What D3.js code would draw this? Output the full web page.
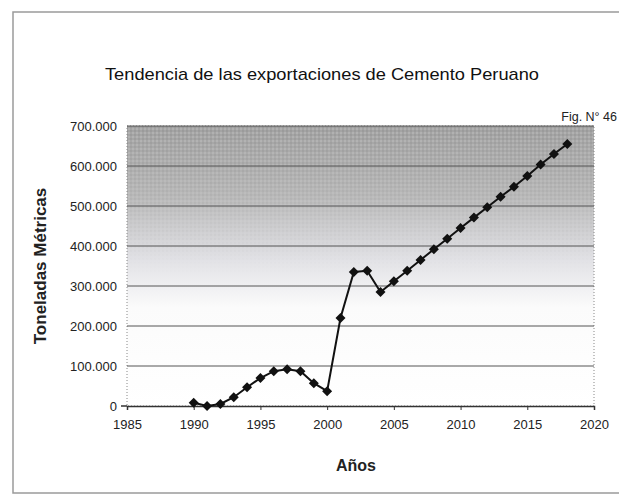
<!DOCTYPE html>
<html><head><meta charset="utf-8">
<script src="https://cdn.jsdelivr.net/npm/d3@7"></script>
<style>body{margin:0;background:#fff}svg{display:block}</style>
</head><body><svg id="c" width="619" height="495"></svg>
<script>
const years = [1990,1991,1992,1993,1994,1995,1996,1997,1998,1999,2000,2001,2002,2003,2004,2005,2006,2007,2008,2009,2010,2011,2012,2013,2014,2015,2016,2017,2018];
const tonnes = [8000,0,5000,22000,47000,70000,87000,92000,87000,57000,37000,220000,335000,338000,285000,312000,338000,365000,392000,418000,445000,471000,497000,523000,548000,575000,604000,630000,655000];
const xTicks = [1985,1990,1995,2000,2005,2010,2015,2020];
const yTicks = [0,100000,200000,300000,400000,500000,600000,700000];
const title = "Tendencia de las exportaciones de Cemento Peruano";
const figLabel = "Fig. N° 46";
const xTitle = "Años";
const yTitle = "Toneladas Métricas";

const svg = d3.select("#c");
const font = "'Liberation Sans', Arial, sans-serif";
const L=127,R=594,T=126,B=406;
const x = d3.scaleLinear().domain([1985,2020]).range([L,R]);
const y = d3.scaleLinear().domain([0,700000]).range([B,T]);

// outer frame
svg.append("rect").attr("x",13).attr("y",12).attr("width",620).attr("height",481)
  .attr("fill","#fff").attr("stroke","#9a9a9a").attr("stroke-width",1.5);

const defs = svg.append("defs");
const g = defs.append("linearGradient").attr("id","bg").attr("x1",0).attr("x2",0).attr("y1",0).attr("y2",1);
g.append("stop").attr("offset","0%").attr("stop-color","#a2a2a2");
g.append("stop").attr("offset","25%").attr("stop-color","#b8b8b8");
g.append("stop").attr("offset","48%").attr("stop-color","#e2e2e6");
g.append("stop").attr("offset","65%").attr("stop-color","#fbfbfb");
g.append("stop").attr("offset","100%").attr("stop-color","#ffffff");
const pat = defs.append("pattern").attr("id","dots").attr("width",4).attr("height",4).attr("patternUnits","userSpaceOnUse");
pat.append("circle").attr("cx",1).attr("cy",1).attr("r",0.8).attr("fill","#ffffff").attr("opacity",0.35);
pat.append("circle").attr("cx",3).attr("cy",3).attr("r",0.8).attr("fill","#000").attr("opacity",0.12);
const fade = defs.append("linearGradient").attr("id","fade").attr("x1",0).attr("x2",0).attr("y1",0).attr("y2",1);
fade.append("stop").attr("offset","0%").attr("stop-color","#fff").attr("stop-opacity",1);
fade.append("stop").attr("offset","55%").attr("stop-color","#fff").attr("stop-opacity",0);
const mask = defs.append("mask").attr("id","m");
mask.append("rect").attr("x",L).attr("y",T).attr("width",R-L).attr("height",B-T).attr("fill","url(#fade)");

svg.append("rect").attr("x",L).attr("y",T).attr("width",R-L).attr("height",B-T).attr("fill","url(#bg)");
svg.append("rect").attr("x",L).attr("y",T).attr("width",R-L).attr("height",B-T).attr("fill","url(#dots)").attr("mask","url(#m)");
svg.append("rect").attr("x",L).attr("y",T).attr("width",R-L).attr("height",B-T).attr("fill","none")
  .attr("stroke","#888").attr("stroke-dasharray","1,2");

// gridlines
svg.append("g").selectAll("line").data(yTicks.filter(d=>d>0)).join("line")
  .attr("x1",L).attr("x2",R).attr("y1",d=>y(d)).attr("y2",d=>y(d))
  .attr("stroke","#555").attr("stroke-width",1);

// y axis
const yAx = svg.append("g").attr("transform",`translate(${L},0)`)
  .call(d3.axisLeft(y).tickValues(yTicks).tickSize(0).tickPadding(10)
    .tickFormat(d=>d===0?"0":d3.format(",")(d).replace(/,/g,".")));
yAx.select(".domain").remove();
yAx.selectAll("text").attr("font-family",font).attr("font-size",13).attr("fill","#222");

// x axis
const xAx = svg.append("g").attr("transform",`translate(0,${B})`)
  .call(d3.axisBottom(x).tickValues(xTicks).tickSize(4).tickPadding(10).tickFormat(d3.format("d")));
xAx.select(".domain").attr("stroke","#333").attr("stroke-width",1.5);
xAx.selectAll("line").attr("stroke","#333");
xAx.selectAll("text").attr("font-family",font).attr("font-size",13).attr("fill","#222");
svg.append("line").attr("x1",L-6).attr("x2",L).attr("y1",B).attr("y2",B).attr("stroke","#333").attr("stroke-width",1.5);

// line + markers
const data = years.map((yr,i)=>({yr,v:tonnes[i]}));
svg.append("path").datum(data).attr("fill","none").attr("stroke","#111").attr("stroke-width",2)
  .attr("d",d3.line().x(d=>x(d.yr)).y(d=>y(d.v)));
svg.append("g").selectAll("path").data(data).join("path")
  .attr("transform",d=>`translate(${x(d.yr)},${y(d.v)})`)
  .attr("d",d3.symbol(d3.symbolDiamond2,64)).attr("fill","#111");

// texts
svg.append("text").attr("x",322).attr("y",80).attr("text-anchor","middle").attr("font-family",font)
  .attr("font-size",17).attr("fill","#111").attr("textLength",434).attr("lengthAdjust","spacingAndGlyphs").text(title);
svg.append("text").attr("x",617).attr("y",121).attr("text-anchor","end").attr("font-family",font)
  .attr("font-size",12.5).attr("fill","#222").text(figLabel);
svg.append("text").attr("x",356).attr("y",471).attr("text-anchor","middle").attr("font-family",font)
  .attr("font-size",16).attr("font-weight","bold").attr("fill","#222").text(xTitle);
svg.append("text").attr("transform","translate(46,266) rotate(-90)").attr("text-anchor","middle").attr("font-family",font)
  .attr("font-size",17).attr("font-weight","bold").attr("fill","#222").text(yTitle);
</script></body></html>
